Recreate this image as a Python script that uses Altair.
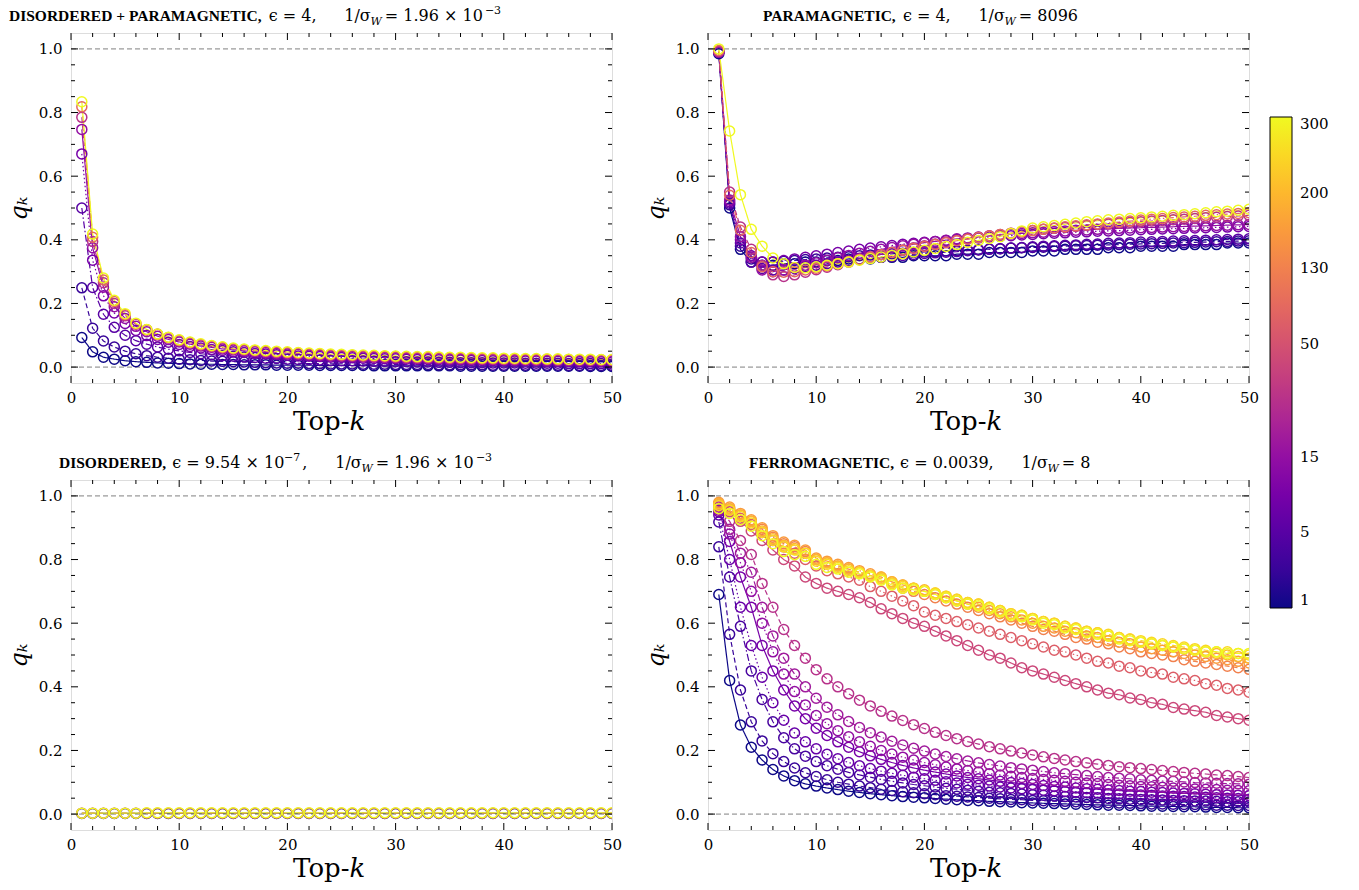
import altair as alt
import pandas as pd

SERIF = "DejaVu Serif"
BOLD_FONT = "Liberation Serif"

K = list(range(1, 51))
X_MAJOR = [0, 10, 20, 30, 40, 50]
X_MINOR = [2, 4, 6, 8, 12, 14, 16, 18, 22, 24, 26, 28, 32, 34, 36, 38, 42, 44, 46, 48]
Y_MAJOR = [0.0, 0.2, 0.4, 0.6, 0.8, 1.0]
Y_MINOR = [0.05, 0.1, 0.15, 0.25, 0.3, 0.35, 0.45, 0.5, 0.55, 0.65, 0.7, 0.75, 0.85, 0.9, 0.95]
REF_Q = [0.0, 1.0]

CB_TICKS = [0, 4, 8, 14, 18, 22, 26]
CB_LABELS = ["1", "5", "15", "50", "130", "200", "300"]

STYLES = ["solid", "dashed", "dashdot", "dotted"]
DASHES = [[1, 0], [5, 3], [7, 2.5, 1.5, 2.5], [1.5, 2.5]]

# ---------------- top-left: DISORDERED + PARAMAGNETIC ----------------
TL_1 = [0.093, 0.048, 0.031, 0.025, 0.020, 0.017, 0.015, 0.013, 0.012, 0.011,
        0.010, 0.009, 0.009, 0.008, 0.008, 0.007, 0.007, 0.007, 0.006, 0.006,
        0.006, 0.006, 0.005, 0.005, 0.005, 0.005, 0.005, 0.004, 0.004, 0.004,
        0.004, 0.004, 0.004, 0.004, 0.004, 0.003, 0.003, 0.003, 0.003, 0.003,
        0.003, 0.003, 0.003, 0.003, 0.003, 0.003, 0.003, 0.002, 0.002, 0.002]
TL_2 = [0.249, 0.122, 0.082, 0.063, 0.050, 0.042, 0.036, 0.031, 0.028, 0.025,
        0.023, 0.021, 0.019, 0.018, 0.017, 0.016, 0.015, 0.014, 0.013, 0.012,
        0.012, 0.011, 0.011, 0.010, 0.010, 0.010, 0.009, 0.009, 0.009, 0.008,
        0.008, 0.008, 0.008, 0.007, 0.007, 0.007, 0.007, 0.007, 0.006, 0.006,
        0.006, 0.006, 0.006, 0.006, 0.006, 0.005, 0.005, 0.005, 0.005, 0.005]
TL_3 = [0.500, 0.250, 0.166, 0.125, 0.100, 0.083, 0.072, 0.063, 0.056, 0.051,
        0.046, 0.042, 0.039, 0.036, 0.034, 0.032, 0.030, 0.028, 0.027, 0.025,
        0.024, 0.023, 0.022, 0.021, 0.020, 0.020, 0.019, 0.018, 0.018, 0.017,
        0.017, 0.016, 0.016, 0.015, 0.015, 0.014, 0.014, 0.014, 0.013, 0.013,
        0.013, 0.012, 0.012, 0.012, 0.012, 0.011, 0.011, 0.011, 0.011, 0.010]
TL_4 = [0.670, 0.336, 0.224, 0.170, 0.137, 0.115, 0.099, 0.087, 0.078, 0.071,
        0.065, 0.060, 0.055, 0.052, 0.048, 0.046, 0.043, 0.041, 0.039, 0.037,
        0.035, 0.034, 0.033, 0.031, 0.030, 0.029, 0.028, 0.027, 0.026, 0.026,
        0.025, 0.024, 0.024, 0.023, 0.022, 0.022, 0.021, 0.021, 0.020, 0.020,
        0.019, 0.019, 0.019, 0.018, 0.018, 0.018, 0.017, 0.017, 0.017, 0.016]
TL_5 = [0.747, 0.375, 0.251, 0.190, 0.153, 0.128, 0.111, 0.097, 0.087, 0.079,
        0.072, 0.066, 0.062, 0.057, 0.054, 0.051, 0.048, 0.046, 0.043, 0.041,
        0.040, 0.038, 0.037, 0.035, 0.034, 0.033, 0.032, 0.031, 0.030, 0.029,
        0.028, 0.027, 0.027, 0.026, 0.025, 0.025, 0.024, 0.024, 0.023, 0.023,
        0.022, 0.022, 0.021, 0.021, 0.021, 0.020, 0.020, 0.020, 0.019, 0.019]
TL_6 = [0.785, 0.395, 0.265, 0.200, 0.161, 0.135, 0.117, 0.103, 0.092, 0.083,
        0.076, 0.070, 0.065, 0.061, 0.057, 0.054, 0.051, 0.049, 0.046, 0.044,
        0.042, 0.041, 0.039, 0.038, 0.036, 0.035, 0.034, 0.033, 0.032, 0.031,
        0.030, 0.029, 0.029, 0.028, 0.027, 0.027, 0.026, 0.025, 0.025, 0.024,
        0.024, 0.024, 0.023, 0.023, 0.022, 0.022, 0.022, 0.021, 0.021, 0.021]
TL_7 = [0.818, 0.408, 0.274, 0.206, 0.165, 0.136, 0.117, 0.103, 0.093, 0.084,
        0.077, 0.071, 0.066, 0.062, 0.058, 0.055, 0.052, 0.050, 0.048, 0.046,
        0.044, 0.042, 0.041, 0.039, 0.038, 0.037, 0.036, 0.035, 0.034, 0.033,
        0.032, 0.031, 0.031, 0.030, 0.029, 0.029, 0.028, 0.027, 0.027, 0.026,
        0.026, 0.025, 0.025, 0.025, 0.024, 0.024, 0.023, 0.023, 0.023, 0.022]
TL_8 = [0.834, 0.418, 0.280, 0.210, 0.168, 0.138, 0.118, 0.104, 0.094, 0.086,
        0.079, 0.073, 0.068, 0.064, 0.060, 0.057, 0.054, 0.052, 0.050, 0.048,
        0.046, 0.044, 0.043, 0.041, 0.040, 0.039, 0.038, 0.037, 0.036, 0.035,
        0.034, 0.033, 0.033, 0.032, 0.031, 0.031, 0.030, 0.029, 0.029, 0.028,
        0.028, 0.027, 0.027, 0.026, 0.026, 0.025, 0.025, 0.025, 0.024, 0.024]

# ---------------- top-right: PARAMAGNETIC ----------------
TR_1 = [0.985, 0.500, 0.370, 0.330, 0.320, 0.320, 0.325, 0.325, 0.330, 0.330,
        0.335, 0.335, 0.340, 0.340, 0.340, 0.345, 0.345, 0.345, 0.350, 0.350,
        0.350, 0.350, 0.355, 0.355, 0.355, 0.360, 0.360, 0.360, 0.360, 0.365,
        0.365, 0.365, 0.370, 0.370, 0.370, 0.370, 0.375, 0.375, 0.375, 0.380,
        0.380, 0.380, 0.380, 0.385, 0.385, 0.385, 0.385, 0.390, 0.390, 0.390]
TR_2 = [0.990, 0.510, 0.380, 0.340, 0.330, 0.330, 0.333, 0.335, 0.338, 0.340,
        0.343, 0.345, 0.347, 0.350, 0.352, 0.354, 0.356, 0.358, 0.360, 0.362,
        0.363, 0.365, 0.366, 0.368, 0.369, 0.371, 0.372, 0.374, 0.375, 0.376,
        0.377, 0.379, 0.380, 0.381, 0.382, 0.383, 0.384, 0.385, 0.386, 0.387,
        0.388, 0.389, 0.390, 0.391, 0.392, 0.393, 0.394, 0.395, 0.396, 0.397]
TR_3 = [0.990, 0.515, 0.390, 0.330, 0.310, 0.305, 0.305, 0.310, 0.315, 0.320,
        0.325, 0.330, 0.334, 0.338, 0.342, 0.345, 0.348, 0.351, 0.354, 0.357,
        0.359, 0.361, 0.363, 0.366, 0.368, 0.370, 0.372, 0.374, 0.376, 0.378,
        0.380, 0.381, 0.383, 0.384, 0.386, 0.387, 0.389, 0.390, 0.391, 0.393,
        0.394, 0.395, 0.396, 0.397, 0.398, 0.399, 0.400, 0.401, 0.402, 0.403]
TR_4 = [0.990, 0.520, 0.400, 0.350, 0.330, 0.330, 0.335, 0.340, 0.345, 0.350,
        0.355, 0.360, 0.365, 0.370, 0.374, 0.378, 0.382, 0.386, 0.389, 0.392,
        0.395, 0.398, 0.401, 0.404, 0.406, 0.409, 0.411, 0.413, 0.415, 0.417,
        0.419, 0.421, 0.422, 0.424, 0.425, 0.427, 0.428, 0.429, 0.430, 0.432,
        0.433, 0.434, 0.435, 0.436, 0.437, 0.438, 0.439, 0.440, 0.441, 0.442]
TR_5 = [0.990, 0.525, 0.410, 0.345, 0.305, 0.300, 0.305, 0.312, 0.320, 0.328,
        0.336, 0.344, 0.351, 0.358, 0.364, 0.370, 0.376, 0.381, 0.386, 0.391,
        0.395, 0.399, 0.403, 0.406, 0.409, 0.412, 0.415, 0.418, 0.420, 0.422,
        0.424, 0.426, 0.428, 0.430, 0.431, 0.433, 0.434, 0.436, 0.437, 0.438,
        0.439, 0.440, 0.441, 0.442, 0.443, 0.444, 0.445, 0.446, 0.447, 0.448]
TR_6 = [0.992, 0.550, 0.440, 0.370, 0.320, 0.290, 0.285, 0.290, 0.298, 0.306,
        0.314, 0.322, 0.330, 0.338, 0.346, 0.354, 0.361, 0.368, 0.375, 0.381,
        0.387, 0.393, 0.398, 0.403, 0.408, 0.413, 0.417, 0.421, 0.425, 0.429,
        0.433, 0.436, 0.439, 0.442, 0.445, 0.448, 0.450, 0.453, 0.455, 0.457,
        0.459, 0.461, 0.463, 0.465, 0.467, 0.469, 0.471, 0.473, 0.475, 0.477]
TR_7 = [0.995, 0.540, 0.430, 0.360, 0.315, 0.300, 0.298, 0.300, 0.305, 0.311,
        0.318, 0.325, 0.332, 0.339, 0.346, 0.353, 0.360, 0.367, 0.373, 0.379,
        0.385, 0.391, 0.397, 0.402, 0.407, 0.412, 0.417, 0.421, 0.425, 0.429,
        0.433, 0.437, 0.441, 0.444, 0.447, 0.450, 0.453, 0.456, 0.459, 0.462,
        0.465, 0.467, 0.470, 0.472, 0.474, 0.477, 0.479, 0.481, 0.483, 0.485]
TR_8 = [1.000, 0.742, 0.542, 0.433, 0.380, 0.343, 0.325, 0.313, 0.312, 0.315,
        0.320, 0.325, 0.330, 0.336, 0.341, 0.346, 0.351, 0.356, 0.362, 0.367,
        0.373, 0.379, 0.385, 0.392, 0.398, 0.404, 0.410, 0.420, 0.428, 0.437,
        0.441, 0.445, 0.449, 0.453, 0.457, 0.460, 0.463, 0.465, 0.467, 0.469,
        0.472, 0.474, 0.477, 0.479, 0.482, 0.485, 0.488, 0.490, 0.493, 0.496]

# ---------------- bottom-left: DISORDERED ----------------
BL_1 = [0.002, 0.002, 0.002, 0.002, 0.002, 0.002, 0.002, 0.002, 0.002, 0.002,
        0.002, 0.002, 0.002, 0.002, 0.002, 0.002, 0.002, 0.002, 0.002, 0.002,
        0.002, 0.002, 0.002, 0.002, 0.002, 0.002, 0.002, 0.002, 0.002, 0.002,
        0.002, 0.002, 0.002, 0.002, 0.002, 0.002, 0.002, 0.002, 0.002, 0.002,
        0.002, 0.002, 0.002, 0.002, 0.002, 0.002, 0.002, 0.002, 0.002, 0.002]
BL_2 = [0.003, 0.003, 0.003, 0.003, 0.003, 0.003, 0.003, 0.003, 0.003, 0.003,
        0.003, 0.003, 0.003, 0.003, 0.003, 0.003, 0.003, 0.003, 0.003, 0.003,
        0.003, 0.003, 0.003, 0.003, 0.003, 0.003, 0.003, 0.003, 0.003, 0.003,
        0.003, 0.003, 0.003, 0.003, 0.003, 0.003, 0.003, 0.003, 0.003, 0.003,
        0.003, 0.003, 0.003, 0.003, 0.003, 0.003, 0.003, 0.003, 0.003, 0.003]
BL_3 = [0.003, 0.003, 0.003, 0.003, 0.003, 0.003, 0.004, 0.004, 0.004, 0.004,
        0.004, 0.004, 0.004, 0.004, 0.004, 0.004, 0.004, 0.004, 0.004, 0.004,
        0.004, 0.004, 0.004, 0.004, 0.004, 0.004, 0.004, 0.004, 0.004, 0.004,
        0.004, 0.004, 0.004, 0.004, 0.004, 0.004, 0.004, 0.004, 0.004, 0.004,
        0.004, 0.004, 0.004, 0.004, 0.004, 0.004, 0.004, 0.004, 0.004, 0.004]

# ---------------- bottom-right: FERROMAGNETIC ----------------
BR_1 = [0.690, 0.420, 0.280, 0.210, 0.170, 0.140, 0.120, 0.105, 0.095, 0.088,
        0.082, 0.077, 0.072, 0.068, 0.064, 0.061, 0.058, 0.055, 0.053, 0.051,
        0.049, 0.047, 0.045, 0.043, 0.042, 0.040, 0.039, 0.038, 0.036, 0.035,
        0.034, 0.033, 0.032, 0.031, 0.030, 0.029, 0.028, 0.028, 0.027, 0.026,
        0.025, 0.025, 0.024, 0.023, 0.023, 0.022, 0.021, 0.021, 0.020, 0.020]
BR_2 = [0.840, 0.565, 0.390, 0.290, 0.230, 0.190, 0.165, 0.145, 0.130, 0.118,
        0.108, 0.100, 0.094, 0.088, 0.083, 0.078, 0.074, 0.070, 0.067, 0.064,
        0.061, 0.058, 0.056, 0.054, 0.052, 0.050, 0.048, 0.046, 0.045, 0.043,
        0.042, 0.041, 0.040, 0.039, 0.038, 0.037, 0.036, 0.035, 0.034, 0.033,
        0.032, 0.032, 0.031, 0.030, 0.030, 0.029, 0.028, 0.028, 0.027, 0.027]
BR_3 = [0.918, 0.745, 0.590, 0.450, 0.360, 0.290, 0.240, 0.205, 0.182, 0.165,
        0.152, 0.141, 0.131, 0.123, 0.116, 0.109, 0.103, 0.098, 0.093, 0.089,
        0.085, 0.081, 0.078, 0.075, 0.072, 0.069, 0.067, 0.065, 0.063, 0.061,
        0.059, 0.057, 0.055, 0.054, 0.052, 0.051, 0.049, 0.048, 0.047, 0.046,
        0.045, 0.044, 0.043, 0.042, 0.041, 0.041, 0.040, 0.039, 0.039, 0.038]
BR_4 = [0.940, 0.800, 0.650, 0.530, 0.430, 0.350, 0.295, 0.255, 0.227, 0.205,
        0.188, 0.174, 0.162, 0.152, 0.143, 0.135, 0.128, 0.122, 0.116, 0.111,
        0.106, 0.102, 0.098, 0.094, 0.091, 0.088, 0.085, 0.082, 0.080, 0.077,
        0.075, 0.073, 0.071, 0.069, 0.067, 0.066, 0.064, 0.063, 0.061, 0.060,
        0.059, 0.057, 0.056, 0.055, 0.054, 0.053, 0.051, 0.050, 0.049, 0.047]
BR_5 = [0.950, 0.857, 0.745, 0.650, 0.530, 0.450, 0.390, 0.340, 0.300, 0.270,
        0.247, 0.227, 0.210, 0.196, 0.183, 0.172, 0.162, 0.153, 0.145, 0.138,
        0.132, 0.126, 0.120, 0.115, 0.111, 0.107, 0.103, 0.099, 0.096, 0.093,
        0.090, 0.087, 0.085, 0.082, 0.080, 0.078, 0.076, 0.074, 0.072, 0.071,
        0.069, 0.068, 0.066, 0.065, 0.064, 0.062, 0.061, 0.060, 0.059, 0.058]
BR_6 = [0.955, 0.880, 0.790, 0.700, 0.600, 0.510, 0.440, 0.385, 0.343, 0.310,
        0.284, 0.262, 0.243, 0.227, 0.213, 0.200, 0.189, 0.179, 0.170, 0.162,
        0.155, 0.148, 0.142, 0.137, 0.132, 0.127, 0.123, 0.119, 0.115, 0.112,
        0.109, 0.106, 0.103, 0.100, 0.098, 0.096, 0.093, 0.091, 0.089, 0.087,
        0.086, 0.084, 0.082, 0.081, 0.079, 0.078, 0.077, 0.075, 0.074, 0.073]
BR_7 = [0.960, 0.895, 0.820, 0.760, 0.650, 0.560, 0.490, 0.440, 0.400, 0.364,
        0.336, 0.312, 0.291, 0.272, 0.256, 0.242, 0.229, 0.217, 0.207, 0.198,
        0.189, 0.181, 0.174, 0.167, 0.161, 0.156, 0.151, 0.146, 0.142, 0.138,
        0.134, 0.130, 0.127, 0.124, 0.121, 0.118, 0.115, 0.113, 0.111, 0.108,
        0.106, 0.104, 0.103, 0.101, 0.099, 0.098, 0.097, 0.096, 0.095, 0.094]
BR_8 = [0.965, 0.920, 0.860, 0.816, 0.725, 0.650, 0.580, 0.530, 0.490, 0.454,
        0.425, 0.400, 0.378, 0.358, 0.340, 0.323, 0.308, 0.294, 0.281, 0.269,
        0.257, 0.247, 0.237, 0.228, 0.220, 0.212, 0.205, 0.198, 0.192, 0.186,
        0.180, 0.175, 0.170, 0.165, 0.161, 0.157, 0.153, 0.149, 0.146, 0.143,
        0.140, 0.137, 0.134, 0.131, 0.128, 0.126, 0.123, 0.121, 0.118, 0.115]
BR_9 = [0.970, 0.950, 0.920, 0.890, 0.860, 0.830, 0.800, 0.780, 0.745, 0.725,
        0.710, 0.700, 0.690, 0.680, 0.665, 0.645, 0.630, 0.615, 0.600, 0.590,
        0.575, 0.560, 0.545, 0.530, 0.515, 0.500, 0.490, 0.475, 0.460, 0.450,
        0.440, 0.430, 0.420, 0.410, 0.400, 0.390, 0.380, 0.375, 0.365, 0.360,
        0.350, 0.345, 0.335, 0.330, 0.325, 0.320, 0.310, 0.305, 0.300, 0.295]
BR_10 = [0.975, 0.955, 0.930, 0.910, 0.885, 0.860, 0.840, 0.820, 0.800, 0.780,
         0.765, 0.755, 0.745, 0.735, 0.715, 0.700, 0.685, 0.670, 0.655, 0.635,
         0.625, 0.615, 0.605, 0.595, 0.585, 0.575, 0.565, 0.555, 0.545, 0.535,
         0.525, 0.515, 0.510, 0.500, 0.490, 0.480, 0.475, 0.465, 0.460, 0.450,
         0.445, 0.440, 0.430, 0.425, 0.420, 0.410, 0.405, 0.395, 0.390, 0.383]
BR_11 = [0.975, 0.960, 0.940, 0.920, 0.895, 0.870, 0.850, 0.840, 0.825, 0.800,
         0.790, 0.780, 0.770, 0.760, 0.750, 0.740, 0.725, 0.710, 0.700, 0.690,
         0.680, 0.670, 0.660, 0.650, 0.640, 0.630, 0.620, 0.610, 0.600, 0.590,
         0.580, 0.575, 0.565, 0.555, 0.550, 0.540, 0.535, 0.525, 0.520, 0.510,
         0.505, 0.500, 0.495, 0.485, 0.480, 0.475, 0.470, 0.465, 0.460, 0.455]
BR_12 = [0.980, 0.965, 0.945, 0.925, 0.900, 0.875, 0.855, 0.845, 0.830, 0.805,
         0.795, 0.785, 0.775, 0.765, 0.755, 0.745, 0.730, 0.720, 0.710, 0.700,
         0.690, 0.680, 0.670, 0.660, 0.650, 0.640, 0.630, 0.620, 0.610, 0.600,
         0.590, 0.585, 0.575, 0.570, 0.560, 0.555, 0.545, 0.540, 0.535, 0.525,
         0.520, 0.515, 0.510, 0.505, 0.500, 0.495, 0.490, 0.485, 0.480, 0.475]
BR_13 = [0.975, 0.960, 0.940, 0.920, 0.890, 0.865, 0.845, 0.835, 0.820, 0.800,
         0.790, 0.780, 0.770, 0.760, 0.750, 0.745, 0.730, 0.720, 0.710, 0.705,
         0.695, 0.685, 0.675, 0.665, 0.660, 0.650, 0.640, 0.630, 0.625, 0.615,
         0.605, 0.600, 0.590, 0.585, 0.575, 0.570, 0.560, 0.555, 0.550, 0.540,
         0.535, 0.530, 0.525, 0.520, 0.515, 0.510, 0.505, 0.500, 0.495, 0.490]
BR_14 = [0.970, 0.955, 0.935, 0.915, 0.885, 0.860, 0.840, 0.830, 0.820, 0.795,
         0.785, 0.775, 0.765, 0.760, 0.750, 0.740, 0.725, 0.715, 0.710, 0.700,
         0.695, 0.685, 0.675, 0.665, 0.660, 0.650, 0.640, 0.630, 0.625, 0.615,
         0.605, 0.600, 0.590, 0.585, 0.575, 0.570, 0.565, 0.555, 0.550, 0.545,
         0.540, 0.535, 0.530, 0.525, 0.520, 0.515, 0.510, 0.510, 0.505, 0.500]
BR_15 = [0.960, 0.945, 0.925, 0.905, 0.875, 0.850, 0.825, 0.815, 0.810, 0.785,
         0.775, 0.770, 0.760, 0.755, 0.745, 0.735, 0.720, 0.710, 0.705, 0.700,
         0.690, 0.680, 0.670, 0.660, 0.655, 0.645, 0.635, 0.625, 0.620, 0.610,
         0.600, 0.595, 0.585, 0.580, 0.570, 0.565, 0.560, 0.550, 0.545, 0.540,
         0.535, 0.530, 0.525, 0.520, 0.515, 0.510, 0.510, 0.505, 0.505, 0.505]

# (name, colour level, line style, values)
TL_SERIES = [("tl1", 0, "solid", TL_1), ("tl2", 2, "dashed", TL_2), ("tl3", 4, "dashdot", TL_3),
             ("tl4", 6, "dotted", TL_4), ("tl5", 8, "solid", TL_5), ("tl6", 11, "dashed", TL_6),
             ("tl7", 16, "dashdot", TL_7), ("tl8", 26, "solid", TL_8)]
TR_SERIES = [("tr1", 0, "solid", TR_1), ("tr2", 2, "dashed", TR_2), ("tr3", 4, "dashdot", TR_3),
             ("tr4", 6, "dotted", TR_4), ("tr5", 8, "solid", TR_5), ("tr6", 11, "dashed", TR_6),
             ("tr7", 16, "dashdot", TR_7), ("tr8", 26, "solid", TR_8)]
BL_SERIES = [("bl1", 0, "solid", BL_1), ("bl2", 13, "dashed", BL_2), ("bl3", 26, "solid", BL_3)]
BR_SERIES = [("br1", 0, "solid", BR_1), ("br2", 2, "dashed", BR_2), ("br3", 3, "dashdot", BR_3),
             ("br4", 5, "dotted", BR_4), ("br5", 6, "solid", BR_5), ("br6", 8, "dotted", BR_6),
             ("br7", 9, "dashdot", BR_7), ("br8", 11, "dashed", BR_8), ("br9", 13, "solid", BR_9),
             ("br10", 15, "dotted", BR_10), ("br11", 18, "dashed", BR_11),
             ("br12", 20, "dashdot", BR_12), ("br13", 22, "dotted", BR_13),
             ("br14", 24, "dashed", BR_14), ("br15", 26, "solid", BR_15)]

W, H = 541, 350


def make_frame(series):
    rows = []
    for i, (name, lvl, style, vals) in enumerate(series):
        assert len(vals) == 50, name
        for k, q in zip(K, vals):
            rows.append({"series": name, "order": i, "level": lvl,
                         "style": style, "k": k, "q": q})
    return pd.DataFrame(rows)


label_expr = " : ".join(
    f"datum.value == {t} ? '{lab}'" for t, lab in zip(CB_TICKS, CB_LABELS)) + " : ''"

X = alt.X("k:Q", scale=alt.Scale(domain=[0, 50], nice=False, zero=False),
          axis=alt.Axis(values=X_MAJOR, ticks=False, domain=False, grid=False, title=None,
                        labelFont=SERIF, labelFontSize=15, labelPadding=7,
                        labelColor="black", labelFlush=False))
Y = alt.Y("q:Q", scale=alt.Scale(domain=[-0.05, 1.05], nice=False, zero=False),
          axis=alt.Axis(values=Y_MAJOR, format=".1f", ticks=False, domain=False, grid=False,
                        title="qₖ", titleFont=SERIF, titleFontSize=24, titleFontStyle="italic",
                        titleFontWeight="normal", titlePadding=7, titleColor="black",
                        labelFont=SERIF, labelFontSize=15, labelPadding=9, labelColor="black"))
COLOR = alt.Color("level:Q", scale=alt.Scale(scheme="plasma", domain=[0, 26]),
                  legend=alt.Legend(orient="none", legendX=1199, legendY=84, direction="vertical",
                                    title=None, gradientLength=491, gradientThickness=22,
                                    values=CB_TICKS, labelExpr=label_expr, labelOverlap=False,
                                    labelFont=SERIF, labelFontSize=15, labelColor="black",
                                    labelOffset=8, gradientStrokeColor="black",
                                    gradientStrokeWidth=1))
DASH = alt.StrokeDash("style:N", scale=alt.Scale(domain=STYLES, range=DASHES), legend=None)

ONE = pd.DataFrame({"a": [0]})

TB = {"A": .722, "C": .722, "D": .722, "E": .667, "F": .611, "G": .778, "I": .389,
      "M": .944, "N": .722, "O": .778, "P": .611, "R": .722, "S": .556, "T": .667,
      "+": .570, ",": .25, " ": .25}
DV = {".": .318, ",": .318, " ": .318, "=": .838, "×": .838, "−": .838, "/": .337,
      "ϵ": .54, "σ": .66, "W": 1.03}
BOLD_SIZE = 15.5


def text_w(s, table, size):
    return sum(table.get(c, .636) for c in s) * size


def text_mark(txt, x, y, font, size, weight="normal", style="normal", dy=0, align="left"):
    return alt.Chart(ONE).mark_text(text=txt, align=align, baseline="alphabetic", font=font,
                                    fontSize=size, fontWeight=weight, fontStyle=style,
                                    dy=dy, color="black").encode(x=alt.value(x), y=alt.value(y))


def title_layers(start, bold, math):
    out = [text_mark(bold, start, -12, BOLD_FONT, BOLD_SIZE, weight="bold")]
    x = start + text_w(bold, TB, BOLD_SIZE) + 6
    for seg, kind in math:
        if kind == "gap":
            x += seg
            continue
        size = 16 if kind == "n" else 11
        dy = 0 if kind == "n" else (4 if kind == "sub" else -7)
        style = "italic" if kind == "sub" else "normal"
        out.append(text_mark(seg, x, -12, SERIF, size, style=style, dy=dy))
        x += text_w(seg, DV, size)
    return out


def tick_layers():
    out = []
    for vals, ln in [(X_MAJOR, 7), (X_MINOR, 4)]:
        base = alt.Chart(pd.DataFrame({"k": vals})).mark_rule(color="black", strokeWidth=1)
        out.append(base.encode(x=X, y=alt.value(H), y2=alt.value(H - ln)))
        out.append(base.encode(x=X, y=alt.value(0), y2=alt.value(ln)))
    for vals, ln in [(Y_MAJOR, 7), (Y_MINOR, 4)]:
        base = alt.Chart(pd.DataFrame({"q": vals})).mark_rule(color="black", strokeWidth=1)
        out.append(base.encode(y=Y, x=alt.value(0), x2=alt.value(ln)))
        out.append(base.encode(y=Y, x=alt.value(W), x2=alt.value(W - ln)))
    return out


def panel(series, start, bold, math):
    df = make_frame(series)
    ref = alt.Chart(pd.DataFrame({"q": REF_Q})).mark_rule(
        color="#808080", strokeDash=[5, 3], strokeWidth=1).encode(y=Y)
    lines = alt.Chart(df).mark_line(strokeWidth=1.2, clip=True).encode(
        x=X, y=Y, color=COLOR, strokeDash=DASH, detail="series:N",
        order=alt.Order("k:Q"))
    pts = alt.Chart(df).mark_point(shape="circle", filled=False, size=100, strokeWidth=1.5,
                                   opacity=1, clip=True).encode(
        x=X, y=Y, color=COLOR, detail="series:N", order=alt.Order("order:Q"))
    xt = [text_mark("Top-", W / 2 + 8, H + 47, SERIF, 26, align="right"),
          text_mark("k", W / 2 + 8, H + 47, SERIF, 26, style="italic")]
    layers = [ref, lines, pts] + tick_layers() + xt + title_layers(start, bold, math)
    return alt.layer(*layers).properties(width=W, height=H)


TL_MATH = [("ϵ = 4,", "n"), (28, "gap"), ("1/σ", "n"), ("W", "sub"), (3, "gap"),
           (" = 1.96 × 10", "n"), (-3, "gap"), ("−3", "sup")]
TR_MATH = [("ϵ = 4,", "n"), (28, "gap"), ("1/σ", "n"), ("W", "sub"), (3, "gap"), (" = 8096", "n")]
BL_MATH = [("ϵ = 9.54 × 10", "n"), (0, "gap"), ("−7", "sup"), (2, "gap"), (",", "n"), (28, "gap"),
           ("1/σ", "n"), ("W", "sub"), (3, "gap"), (" = 1.96 × 10", "n"), (-3, "gap"),
           ("−3", "sup")]
BR_MATH = [("ϵ = 0.0039,", "n"), (28, "gap"), ("1/σ", "n"), ("W", "sub"), (3, "gap"), (" = 8", "n")]

tl = panel(TL_SERIES, -62, "DISORDERED + PARAMAGNETIC,", TL_MATH)
tr = panel(TR_SERIES, 55, "PARAMAGNETIC,", TR_MATH)
bl = panel(BL_SERIES, -12, "DISORDERED,", BL_MATH)
br = panel(BR_SERIES, 41, "FERROMAGNETIC,", BR_MATH)

chart = alt.concat(tl, tr, bl, br, columns=2, spacing={"row": 97, "column": 96},
                   bounds="flush").resolve_scale(color="shared").properties(
    padding={"left": 6, "top": 4, "right": 5, "bottom": 5}
).configure_view(stroke="black", strokeWidth=1.2).configure(background="white")

chart.save("out.html", embed_options={"renderer": "svg", "actions": False})
